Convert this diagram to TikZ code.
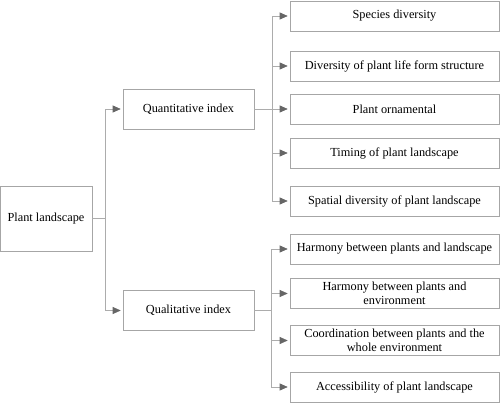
\documentclass[tikz,border=0pt]{standalone}
\usepackage{fontspec}
\setmainfont{Liberation Serif}
\usetikzlibrary{arrows.meta}

\tikzset{
	box/.style={draw=gray!70,line width=0.6pt,inner sep=0pt,align=center,font=\fontsize{12.3}{14}\selectfont},
	rootbox/.style={box,minimum width=92pt,minimum height=65pt},
	midbox/.style={box,minimum width=131pt,minimum height=40pt},
	leafbox/.style={box,minimum width=209pt,minimum height=30pt},
	link/.style={draw=gray!65,line width=0.6pt},
	arr/.style={link,-{Triangle[length=8pt,width=7pt,color=black!60,fill=black!60]},shorten >=2pt}
}

\begin{document}
\begin{tikzpicture}[x=1pt,y=-1pt]
	\useasboundingbox (0,0) rectangle (500,403);

	\node[rootbox] (root) at (46,218.5) {Plant landscape};
	\node[midbox] (quan) at (188.5,109) {Quantitative index};
	\node[midbox] (qual) at (188.5,310.5) {Qualitative index};

	\node[leafbox] (s1) at (394.5,16) {Species diversity};
	\node[leafbox] (s2) at (394.5,66) {Diversity of plant life form structure};
	\node[leafbox] (s3) at (394.5,109) {Plant ornamental};
	\node[leafbox] (s4) at (394.5,153) {Timing of plant landscape};
	\node[leafbox] (s5) at (394.5,201) {Spatial diversity of plant landscape};

	\node[leafbox] (t1) at (394.5,249) {Harmony between plants and landscape};
	\node[leafbox] (t2) at (394.5,293.5) {Harmony between plants and\\environment};
	\node[leafbox] (t3) at (394.5,340.5) {Coordination between plants and the\\whole environment};
	\node[leafbox] (t4) at (394.5,387) {Accessibility of plant landscape};

	\coordinate (r) at (105,218.5);
	\coordinate (q) at (272,109);
	\coordinate (p) at (271,310.5);

	\draw[link] (root) -- (r);
	\draw[arr] (r) |- (quan);
	\draw[arr] (r) |- (qual);

	\draw[link] (quan) -- (q);
	\foreach \n in {s1,s2,s3,s4,s5}
		\draw[arr] (q) |- (\n);

	\draw[link] (qual) -- (p);
	\foreach \n in {t1,t2,t3,t4}
		\draw[arr] (p) |- (\n);
\end{tikzpicture}
\end{document}
